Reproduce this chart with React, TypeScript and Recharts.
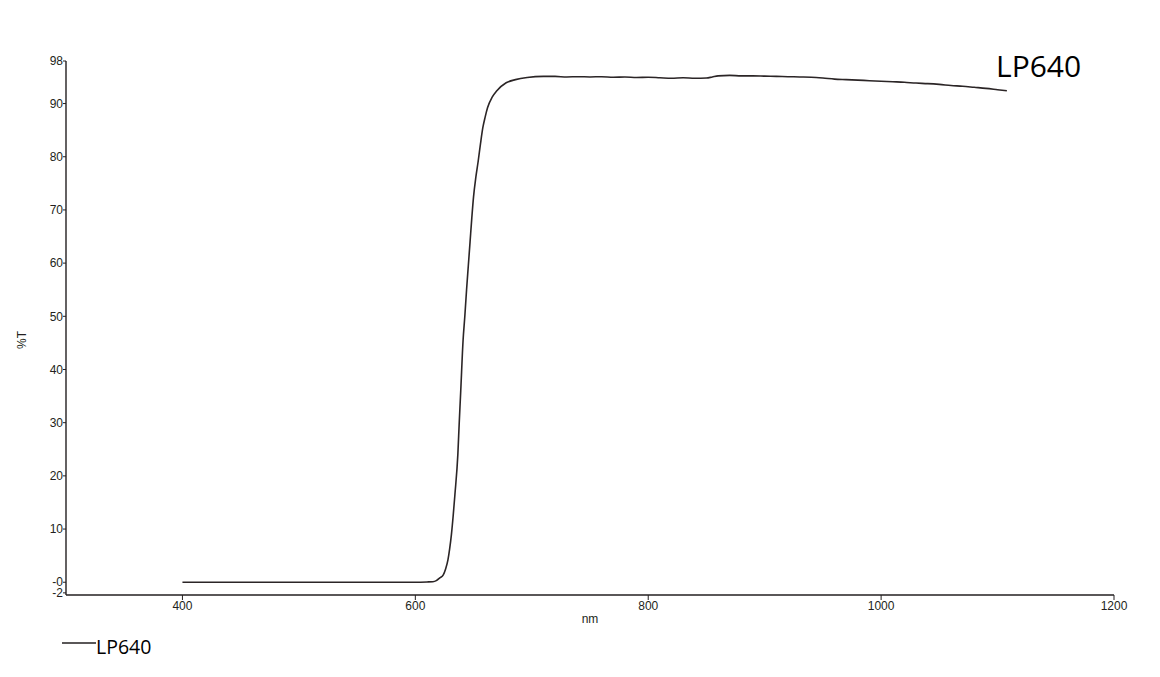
import React from 'react';
import { LineChart, Line, XAxis, YAxis } from 'recharts';

const seriesName = 'LP640';

const wavelengthNm = [
  400, 450, 500, 550, 600, 610, 615, 618, 621, 624, 626, 628, 629.5, 631, 632.5, 634, 636.5, 637.7, 639,
  641, 642.5, 644, 645.5, 647, 648.5, 650, 652, 654, 656, 658, 660, 662, 666, 670, 678, 686, 696, 710, 720, 730, 740,
  750, 760, 770, 780, 790, 800, 810, 820, 830, 840, 850, 855, 860, 870, 880, 890,
  900, 910, 920, 930, 940, 950, 960, 970, 980, 990, 1000, 1010, 1020, 1030, 1040,
  1050, 1060, 1070, 1080, 1090, 1100, 1108,
];

const transmissionPct = [
  0, 0, 0, 0, 0, 0.05, 0.1, 0.3, 0.8, 1.4, 2.5, 4.2, 6.3, 9, 12.5, 16.5, 24, 30, 36,
  45.5, 50, 55, 59.5, 64, 68.5, 72.5, 76.2, 79.2, 82.5, 85.5, 87.5, 89.2, 91.2, 92.4, 93.9, 94.5, 94.9, 95.1, 95.1, 95.0, 95.05,
  95.0, 95.05, 94.95, 95.0, 94.9, 94.95, 94.85, 94.75, 94.85, 94.75, 94.8, 95.0, 95.2, 95.3, 95.2, 95.2,
  95.15, 95.1, 95.05, 95.0, 94.95, 94.8, 94.6, 94.5, 94.4, 94.3, 94.2, 94.1, 94.0, 93.85, 93.75,
  93.6, 93.4, 93.25, 93.05, 92.85, 92.6, 92.4,
];

const xTicks = [400, 600, 800, 1000, 1200];
const yTicks = [-2, 0, 10, 20, 30, 40, 50, 60, 70, 80, 90, 98];
const yTickLabels = ['-2', '-0', '10', '20', '30', '40', '50', '60', '70', '80', '90', '98'];

const xAxisTitle = 'nm';
const yAxisTitle = '%T';

const data = wavelengthNm.map((nm, i) => ({ nm, t: transmissionPct[i] }));

const INK = '#231f20';
const AXIS_FONT = '"Liberation Sans", Arial, sans-serif';
const LABEL_FONT = '"Open Sans", "Noto Sans", sans-serif';

export default function App() {
  return (
    <div style={{ position: 'absolute', left: 0, top: 0, width: 1160, height: 677, background: '#fff' }}>
      <LineChart
        width={1160}
        height={677}
        data={data}
        margin={{ top: 61, right: 46, bottom: 52, left: 0 }}
      >
        <XAxis
          dataKey="nm"
          type="number"
          domain={[300, 1200]}
          ticks={xTicks}
          height={30}
          axisLine={{ stroke: INK, strokeWidth: 1.4 }}
          tickLine={{ stroke: INK, strokeWidth: 1 }}
          tickSize={5}
          tickMargin={1}
          tick={{ fontSize: 12, fill: INK, fontFamily: AXIS_FONT }}
          interval={0}
        />
        <YAxis
          type="number"
          domain={[-2.4, 98]}
          ticks={yTicks}
          width={66}
          axisLine={{ stroke: INK, strokeWidth: 1.4 }}
          tickLine={{ stroke: INK, strokeWidth: 1 }}
          tickSize={3}
          tickMargin={0}
          interval={0}
          tick={{ fontSize: 12, fill: INK, fontFamily: AXIS_FONT }}
          tickFormatter={(v: number) => {
            const i = yTicks.indexOf(v);
            return i >= 0 ? yTickLabels[i] : String(v);
          }}
        />
        <Line
          type="monotone"
          dataKey="t"
          name={seriesName}
          stroke="#2b2526"
          strokeWidth={1.6}
          dot={false}
          isAnimationActive={false}
        />
      </LineChart>
      <svg
        width={1160}
        height={677}
        style={{ position: 'absolute', left: 0, top: 0, pointerEvents: 'none' }}
      >
        <text x={590} y={623} textAnchor="middle" fontSize={12} fill={INK} fontFamily={AXIS_FONT}>
          {xAxisTitle}
        </text>
        <text
          x={0}
          y={0}
          transform="translate(26,340) rotate(-90)"
          textAnchor="middle"
          fontSize={12}
          fill={INK}
          fontFamily={AXIS_FONT}
        >
          {yAxisTitle}
        </text>
        <text x={996} y={77} fontSize={30} fill="#000" fontFamily={LABEL_FONT}>
          {seriesName}
        </text>
        <line x1={62} y1={643} x2={96} y2={643} stroke={INK} strokeWidth={1.6} />
        <text x={96} y={654} fontSize={19.5} fill="#000" fontFamily={LABEL_FONT}>
          {seriesName}
        </text>
      </svg>
    </div>
  );
}
